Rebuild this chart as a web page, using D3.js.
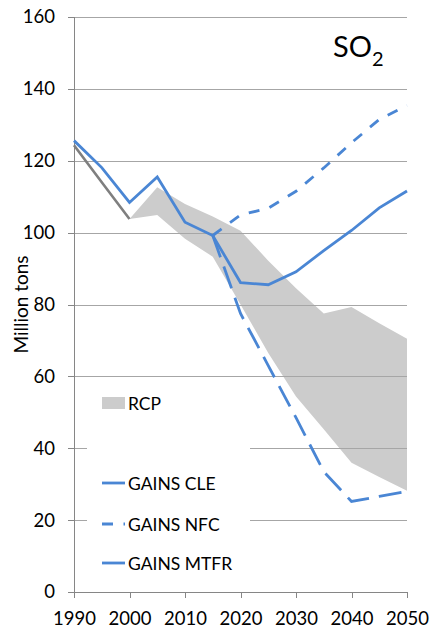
<!DOCTYPE html>
<html>
<head>
<meta charset="utf-8">
<script src="https://cdn.jsdelivr.net/npm/d3@7"></script>
<style>
  body { margin: 0; background: #fff; }
  svg { font-family: Lato, "Open Sans", sans-serif; }
</style>
</head>
<body>
<div id="chart"></div>
<script>
// values (million tons)
const years = [1990, 1995, 2000, 2005, 2010, 2015, 2020, 2025, 2030, 2035, 2040, 2045, 2050]
const histYears = [1990, 1995, 2000]
const hist = [124.3, 114.0, 103.8]
const cle = [125.6, 118.1, 108.4, 115.5, 102.9, 99.2, 86.1, 85.5, 89.1, 95.0, 100.6, 106.9, 111.6]
const scenYears = [2015, 2020, 2025, 2030, 2035, 2040, 2045, 2050]
const nfc = [99.2, 104.9, 106.8, 111.5, 118.0, 125.0, 131.5, 135.4]
const mtfr = [99.2, 77.5, 63.0, 48.5, 33.5, 25.2, 26.6, 28.0]
const rcpYears = [2000, 2005, 2010, 2015, 2020, 2025, 2030, 2035, 2040, 2045, 2050]
const rcpHigh = [103.8, 112.6, 108.0, 104.5, 100.5, 92.2, 84.5, 77.5, 79.3, 74.8, 70.5]
const rcpLow = [103.8, 104.9, 98.3, 93.3, 80.0, 66.5, 54.4, 45.3, 36.0, 32.0, 28.2]
const yTicks = [0, 20, 40, 60, 80, 100, 120, 140, 160]
const xTicks = [1990, 2000, 2010, 2020, 2030, 2040, 2050]
const legendItems = [
    {label: 'RCP', type: 'area'},
    {label: 'GAINS CLE', type: 'line', dash: null},
    {label: 'GAINS NFC', type: 'line', dash: '11,10.5'},
    {label: 'GAINS MTFR', type: 'line', dash: '23,10'}
]

const W = 430, H = 630
const margin = {left: 74, top: 17, right: 23, bottom: 38}
const blue = '#4a86d4'
const gridColor = '#a6a6a6'

const svg = d3.select('#chart').append('svg')
    .attr('width', W)
    .attr('height', H)

const x = d3.scaleLinear().domain([1990, 2050]).range([margin.left, W - margin.right])
const y = d3.scaleLinear().domain([0, 160]).range([H - margin.bottom, margin.top])

// RCP band
const band = d3.area()
    .x((d, i) => x(rcpYears[i]))
    .y0((d, i) => y(rcpLow[i]))
    .y1(d => y(d))
svg.append('path')
    .attr('d', band(rcpHigh))
    .attr('fill', '#cccccc')

// gridlines
svg.append('g')
    .attr('transform', `translate(${margin.left},0)`)
    .call(d3.axisLeft(y).tickValues(yTicks.filter(v => v > 0)).tickSize(-(W - margin.left - margin.right)).tickFormat(''))
    .call(g => g.select('.domain').remove())
    .call(g => g.selectAll('line').attr('stroke', gridColor).attr('shape-rendering', 'crispEdges'))

// legend box hides gridlines behind it
svg.append('rect')
    .attr('x', 87).attr('y', 386)
    .attr('width', 163).attr('height', 195)
    .attr('fill', '#fff')

// axes
const yAxis = svg.append('g')
    .attr('transform', `translate(${margin.left},0)`)
    .call(d3.axisLeft(y).tickValues(yTicks).tickSize(6).tickPadding(13))
yAxis.select('.domain').attr('stroke', '#868686').attr('d', `M0,${y(160)}V${y(0)}`)
yAxis.selectAll('line').attr('stroke', '#868686')
yAxis.selectAll('text').attr('font-size', 18.5).attr('fill', '#000').attr('font-family', 'Lato')

const xAxis = svg.append('g')
    .attr('transform', `translate(0,${y(0)})`)
    .call(d3.axisBottom(x).tickValues(xTicks).tickFormat(d3.format('d')).tickSize(6).tickPadding(14))
xAxis.select('.domain').attr('stroke', '#868686').attr('d', `M${margin.left - 6},0H${x(2050)}`)
xAxis.selectAll('line').attr('stroke', '#868686')
xAxis.selectAll('text').attr('font-size', 18.5).attr('fill', '#000').attr('font-family', 'Lato')

svg.selectAll('.tick line').attr('shape-rendering', 'crispEdges')
svg.selectAll('.domain').attr('shape-rendering', 'crispEdges')

// series
const line = d3.line()
    .x(d => x(d[0]))
    .y(d => y(d[1]))

svg.append('path')
    .attr('d', line(histYears.map((yr, i) => [yr, hist[i]])))
    .attr('fill', 'none').attr('stroke', '#7f7f7f').attr('stroke-width', 2.6)

svg.append('path')
    .attr('d', line(scenYears.map((yr, i) => [yr, nfc[i]])))
    .attr('fill', 'none').attr('stroke', blue).attr('stroke-width', 2.8)
    .attr('stroke-dasharray', '11,10.5')

svg.append('path')
    .attr('d', line(scenYears.map((yr, i) => [yr, mtfr[i]])))
    .attr('fill', 'none').attr('stroke', blue).attr('stroke-width', 2.8)
    .attr('stroke-dasharray', '23,10')

svg.append('path')
    .attr('d', line(years.map((yr, i) => [yr, cle[i]])))
    .attr('fill', 'none').attr('stroke', blue).attr('stroke-width', 2.8)

// title
const title = svg.append('text')
    .attr('x', 333).attr('y', 57)
    .attr('font-size', 29)
    .attr('fill', '#000')
title.append('tspan').text('SO')
title.append('tspan').attr('dy', 9).attr('font-size', 20).text('2')

// y label
svg.append('text')
    .attr('transform', `translate(28,${(y(0) + y(160)) / 2}) rotate(-90)`)
    .attr('text-anchor', 'middle')
    .attr('font-size', 19)
    .attr('fill', '#000')
    .text('Million tons')

// legend
const rowY = [403, 483, 524, 563]
const leg = svg.append('g')
legendItems.forEach((it, i) => {
    const g = leg.append('g').attr('transform', `translate(102,${rowY[i]})`)
    if (it.type === 'area') {
        g.append('rect').attr('x', 0).attr('y', -6).attr('width', 23).attr('height', 12).attr('fill', '#cccccc')
    } else {
        g.append('line').attr('x1', 0).attr('x2', 23).attr('y1', 0).attr('y2', 0)
            .attr('stroke', blue).attr('stroke-width', 2.8)
            .attr('stroke-dasharray', it.dash)
    }
    g.append('text').attr('x', 26).attr('y', 6.5)
        .attr('font-size', 17.5).attr('fill', '#000')
        .text(it.label)
})
</script>
</body>
</html>
